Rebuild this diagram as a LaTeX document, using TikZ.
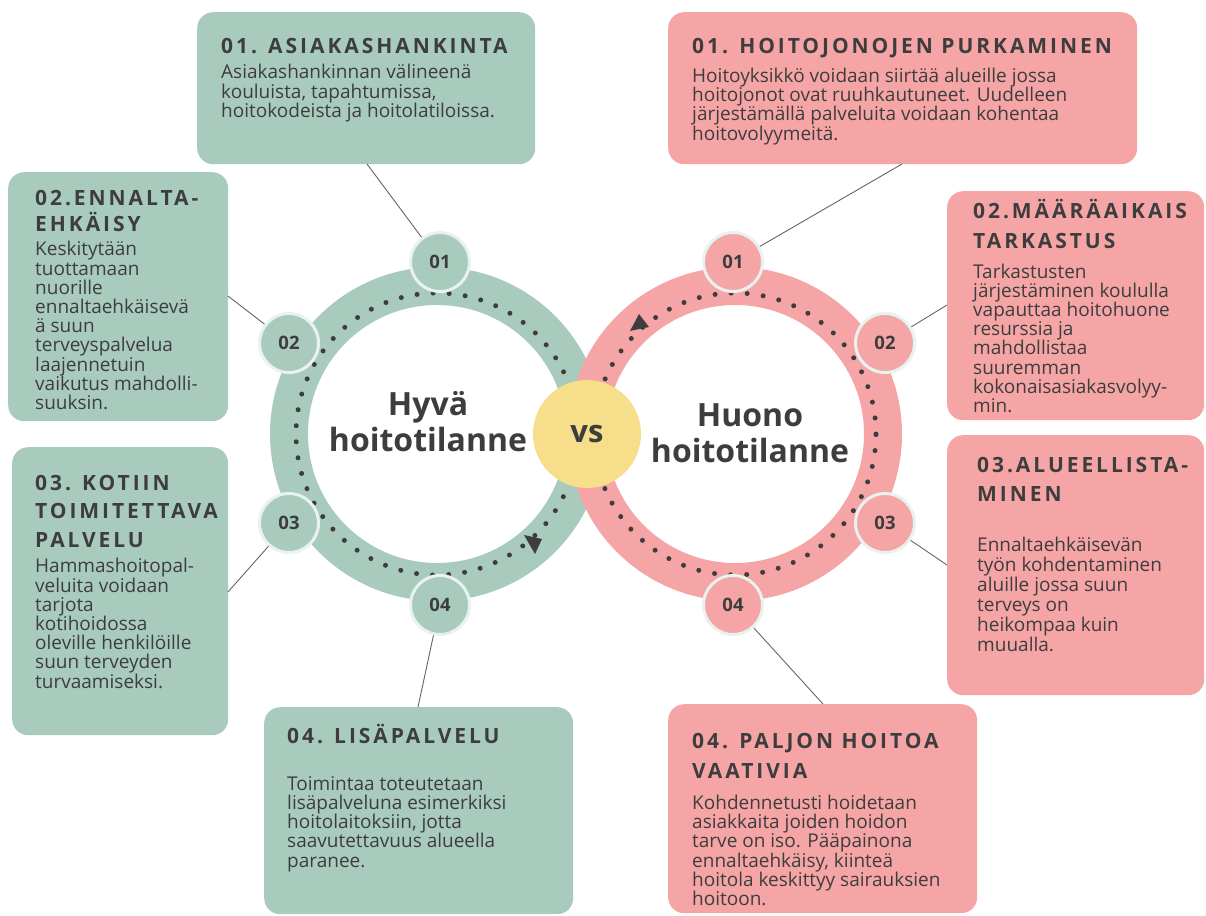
\documentclass[tikz,border=0pt]{standalone}
\usepackage{fontspec}
\setmainfont{Open Sans}
\newfontfamily\headfont[LetterSpace=14]{Open Sans}
\definecolor{goodgreen}{HTML}{A9CBBE}
\definecolor{badpink}{HTML}{F6A5A6}
\definecolor{vsyellow}{HTML}{F7DE8B}
\definecolor{inkgray}{HTML}{3D3D3D}
\definecolor{rimwhite}{HTML}{E8F2EF}

\begin{document}
\begin{tikzpicture}[x=1pt, y=-1pt, ring/.style={circle, inner sep=0pt, minimum size=296pt, line width=38pt}, dots/.style={draw=inkgray, line width=5pt, line cap=round, dash pattern=on 0pt off 16.1pt}, numdot/.style={circle, inner sep=0pt, minimum size=59pt, draw=rimwhite, line width=3pt, text=inkgray, font=\bfseries\fontsize{18.5}{18.5}\selectfont}, gbox/.style={fill=goodgreen, rounded corners=16pt, anchor=north west, inner sep=0pt}, pbox/.style={fill=badpink, rounded corners=16pt, anchor=north west, inner sep=0pt}, head/.style={anchor=base west, inner sep=0pt, align=left, text=inkgray, font=\headfont\bfseries\fontsize{21}{28.5}\selectfont}, body/.style={anchor=base west, inner sep=0pt, align=left, text=inkgray, font=\fontsize{19}{19.2}\selectfont}, link/.style={draw=inkgray!80, line width=0.9pt}, bigtext/.style={anchor=base, inner sep=0pt, align=center, text=inkgray, font=\bfseries\fontsize{32}{36}\selectfont}]

\useasboundingbox (0, 0) rectangle (1206, 915);

\node[ring, draw=goodgreen] (hyvaring) at (437, 434) {};
\node[ring, draw=badpink] (huonoring) at (735, 434) {};
\draw[dots] (hyvaring.center) circle (141pt);
\draw[dots] (huonoring.center) circle (141pt);
\fill[inkgray] (524, 535) -- (542, 539) -- (535, 554) -- cycle;
\fill[inkgray] (639, 314) -- (630, 331) -- (649, 327) -- cycle;

\node[circle, fill=vsyellow, minimum size=108pt, inner sep=0pt, text=inkgray, font=\bfseries\fontsize{31}{31}\selectfont] (vs) at (587, 434) {vs};
% multi-line nodes sit on their last baseline
\node[bigtext] (hyva) at (428, 451) {Hyvä\\hoitotilanne};
\node[bigtext] (huono) at (750, 462) {Huono\\hoitotilanne};

\node[numdot, fill=goodgreen] (g1) at (440, 262) {01};
\node[numdot, fill=goodgreen] (g2) at (289, 343) {02};
\node[numdot, fill=goodgreen] (g3) at (289, 523) {03};
\node[numdot, fill=goodgreen] (g4) at (440, 605) {04};
\node[numdot, fill=badpink] (p1) at (733, 262) {01};
\node[numdot, fill=badpink] (p2) at (885, 343) {02};
\node[numdot, fill=badpink] (p3) at (885, 523) {03};
\node[numdot, fill=badpink] (p4) at (733, 605) {04};

\node[gbox, minimum width=338pt, minimum height=152pt] (gb1) at (197, 12) {};
\node[gbox, minimum width=220pt, minimum height=249pt] (gb2) at (8, 172) {};
\node[gbox, minimum width=216pt, minimum height=288pt] (gb3) at (12, 447) {};
\node[gbox, minimum width=309pt, minimum height=207pt] (gb4) at (264, 707) {};
\node[pbox, minimum width=469pt, minimum height=152pt] (pb1) at (668, 12) {};
\node[pbox, minimum width=257pt, minimum height=229pt] (pb2) at (947, 191) {};
\node[pbox, minimum width=257pt, minimum height=260pt] (pb3) at (947, 435) {};
\node[pbox, minimum width=309pt, minimum height=209pt] (pb4) at (668, 704) {};

\coordinate (gc1) at (367, 164);
\coordinate (gc2) at (228, 296);
\coordinate (gc3) at (228, 592);
\coordinate (gc4) at (418, 707);
\coordinate (pc1) at (902, 164);
\coordinate (pc2) at (947, 305);
\coordinate (pc3) at (947, 565);
\coordinate (pc4) at (823, 704);

\draw[link] (gc1) -- (g1);
\draw[link] (gc2) -- (g2);
\draw[link] (gc3) -- (g3);
\draw[link] (gc4) -- (g4);
\draw[link] (pc1) -- (p1);
\draw[link] (pc2) -- (p2);
\draw[link] (pc3) -- (p3);
\draw[link] (pc4) -- (p4);

\node[head] (gh1) at (221, 54) {01. ASIAKASHANKINTA};
\node[body] (gt1) at (221, 117.4) {Asiakashankinnan välineenä\\kouluista, tapahtumissa,\\hoitokodeista ja hoitolatiloissa.};
\node[head] (gh2) at (35, 231) {02.ENNALTA-\\[-2.5pt]EHKÄISY};
\node[body] (gt2) at (35, 409.5) {Keskitytään\\tuottamaan\\nuorille\\ennaltaehkäisevä\\ä suun\\terveyspalvelua\\laajennetuin\\vaikutus mahdolli-\\suuksin.};
\node[head] (gh3) at (35, 547) {03. KOTIIN\\TOIMITETTAVA\\PALVELU};
\node[body] (gt3) at (35, 688) {Hammashoitopal-\\veluita voidaan\\tarjota\\kotihoidossa\\oleville henkilöille\\suun terveyden\\turvaamiseksi.};
\node[head] (gh4) at (287, 743) {04. LISÄPALVELU};
\node[body] (gt4) at (287, 867) {Toimintaa toteutetaan\\lisäpalveluna esimerkiksi\\hoitolaitoksiin, jotta\\saavutettavuus alueella\\paranee.};

\node[head] (ph1) at (692, 54) {01. HOITOJONOJEN PURKAMINEN};
\node[body] (pt1) at (692, 140) {Hoitoyksikkö voidaan siirtää alueille jossa\\hoitojonot ovat ruuhkautuneet. Uudelleen\\järjestämällä palveluita voidaan kohentaa\\hoitovolyymeitä.};
\node[head] (ph2) at (973, 248) {02.MÄÄRÄAIKAIS\\[1.5pt]TARKASTUS};
\node[body] (pt2) at (973, 412.5) {Tarkastusten\\järjestäminen koululla\\vapauttaa hoitohuone\\resurssia ja\\mahdollistaa\\suuremman\\kokonaisasiakasvolyy-\\min.};
\node[head] (ph3) at (977, 501) {03.ALUEELLISTA-\\MINEN};
\node[body] (pt3) at (977, 651) {Ennaltaehkäisevän\\[0.8pt]työn kohdentaminen\\[0.8pt]aluille jossa suun\\[0.8pt]terveys on\\[0.8pt]heikompaa kuin\\[0.8pt]muualla.};
\node[head] (ph4) at (692, 778) {04. PALJON HOITOA\\[1.5pt]VAATIVIA};
\node[body] (pt4) at (692, 905.5) {Kohdennetusti hoidetaan\\asiakkaita joiden hoidon\\tarve on iso. Pääpainona\\ennaltaehkäisy, kiinteä\\hoitola keskittyy sairauksien\\hoitoon.};

\end{tikzpicture}
\end{document}
